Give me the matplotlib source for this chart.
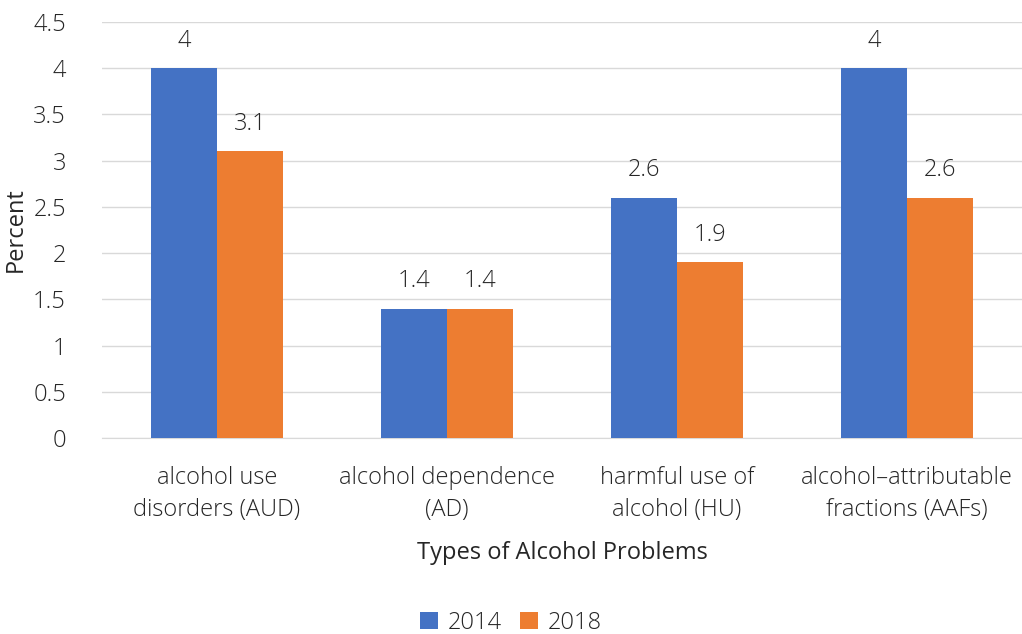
import matplotlib.pyplot as plt
import numpy as np

plt.rcParams['font.family'] = ['Open Sans', 'DejaVu Sans']
plt.rcParams['font.weight'] = 'light'

categories = ['alcohol use\ndisorders (AUD)', 'alcohol dependence\n(AD)',
              'harmful use of\nalcohol (HU)', 'alcohol\u2013attributable\nfractions (AAFs)']
vals_2014 = [4, 1.4, 2.6, 4]
vals_2018 = [3.1, 1.4, 1.9, 2.6]

txt = '#262626'
fs = 17
fig = plt.figure(figsize=(10.22, 6.34), dpi=100)
ax = fig.add_axes([102 / 1022, 1 - 438 / 634, 920 / 1022, 416 / 634])

x = np.arange(len(categories))
w = 66 / 230
b1 = ax.bar(x - w / 2, vals_2014, w, color='#4472C4', label='2014', zorder=3)
b2 = ax.bar(x + w / 2, vals_2018, w, color='#ED7D31', label='2018', zorder=3)
for bars in (b1, b2):
    ax.bar_label(bars, labels=[f'{v:g}' for v in bars.datavalues], padding=11,
                 fontsize=fs, color=txt)

ax.set_xlim(-0.5, len(categories) - 0.5)
ax.set_ylim(0, 4.5)
ax.set_yticks(np.arange(0, 4.51, 0.5))
ax.set_yticklabels([f'{v:g}' for v in np.arange(0, 4.51, 0.5)])
ax.set_xticks(x)
ax.set_xticklabels(categories, linespacing=1.45)
ax.yaxis.grid(True, color='#D9D9D9', linewidth=1, zorder=0)
for s in ['top', 'right', 'left']:
    ax.spines[s].set_visible(False)
ax.spines['bottom'].set_color('#D9D9D9')
ax.tick_params(length=0, labelsize=fs, labelcolor=txt)
ax.tick_params(axis='x', pad=20)
ax.tick_params(axis='y', pad=26)
ax.set_ylabel('Percent', fontsize=fs, color=txt, labelpad=4)
ax.set_xlabel('Types of Alcohol Problems', fontsize=fs, color=txt, labelpad=14)
fig.legend(*ax.get_legend_handles_labels(), loc='lower center', bbox_to_anchor=(0.5, -0.035),
           ncol=2, frameon=False, fontsize=fs, labelcolor=txt, handlelength=0.75,
           handleheight=0.75, columnspacing=0.8, handletextpad=0.4)

fig.savefig('out.png', dpi=100)
